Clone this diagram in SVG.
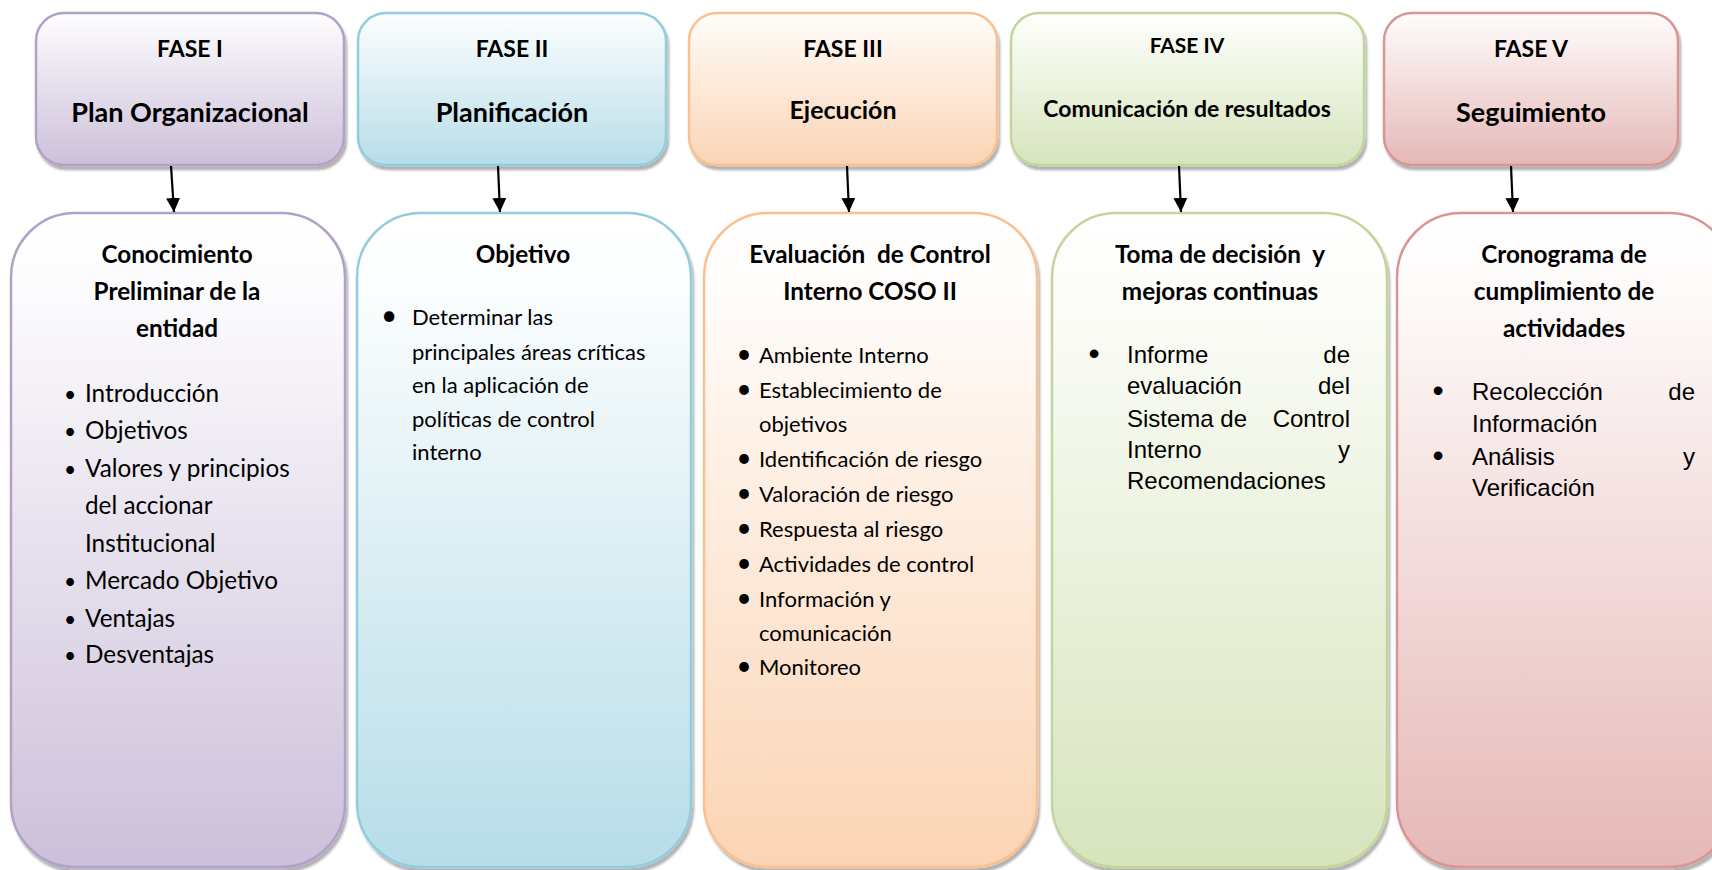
<svg xmlns="http://www.w3.org/2000/svg" width="1712" height="870" viewBox="0 0 1712 870">
<style>
.hdr{font-family:Lato,"Liberation Sans",sans-serif;font-weight:bold;fill:#000;text-anchor:middle}
.fase{font-size:23px}
.ttl{font-size:27px}
.bh{font-size:24.3px}
.b1{font-family:Lato,"Liberation Sans",sans-serif;font-size:24.3px;fill:#000}
.b2{font-family:Lato,"Liberation Sans",sans-serif;font-size:22px;fill:#000}
.ar{font-family:"Liberation Sans",Arial,sans-serif;font-size:24px;fill:#000}
.end{text-anchor:end}
.bul{text-anchor:middle}
.b1 .bul{font-size:21px}
.ar .bul{font-size:32px}
.conn line{stroke:#000;stroke-width:2.2;marker-end:url(#ah)}
</style>
<defs>
<filter id="sh" x="-5%" y="-5%" width="115%" height="115%">
<feDropShadow dx="2" dy="4" stdDeviation="1.2" flood-color="#000" flood-opacity="0.3"/>
</filter>
<marker id="ah" markerWidth="14" markerHeight="16" refX="14" refY="7" orient="auto" markerUnits="userSpaceOnUse">
<path d="M0,0 L14,7 L0,14 Z" fill="#000"/>
</marker>
<linearGradient id="gP" x1="0" y1="0" x2="0" y2="1"><stop offset="0" stop-color="#fefdff"/><stop offset="1" stop-color="#ccc0da"/></linearGradient>
<linearGradient id="gB" x1="0" y1="0" x2="0" y2="1"><stop offset="0" stop-color="#fdfeff"/><stop offset="1" stop-color="#b7dde8"/></linearGradient>
<linearGradient id="gO" x1="0" y1="0" x2="0" y2="1"><stop offset="0" stop-color="#fffdfb"/><stop offset="1" stop-color="#fbd4b4"/></linearGradient>
<linearGradient id="gG" x1="0" y1="0" x2="0" y2="1"><stop offset="0" stop-color="#fefffc"/><stop offset="1" stop-color="#d7e4bd"/></linearGradient>
<linearGradient id="gR" x1="0" y1="0" x2="0" y2="1"><stop offset="0" stop-color="#fffdfd"/><stop offset="1" stop-color="#e5b8b7"/></linearGradient>
<linearGradient id="lP" x1="0" y1="0" x2="0" y2="1"><stop offset="0" stop-color="#ffffff"/><stop offset="0.12" stop-color="#fcfbfd"/><stop offset="1" stop-color="#ccc0da"/></linearGradient>
<linearGradient id="lB" x1="0" y1="0" x2="0" y2="1"><stop offset="0" stop-color="#ffffff"/><stop offset="0.12" stop-color="#fbfdfe"/><stop offset="1" stop-color="#b7dde8"/></linearGradient>
<linearGradient id="lO" x1="0" y1="0" x2="0" y2="1"><stop offset="0" stop-color="#ffffff"/><stop offset="0.12" stop-color="#fffcfa"/><stop offset="1" stop-color="#fbd4b4"/></linearGradient>
<linearGradient id="lG" x1="0" y1="0" x2="0" y2="1"><stop offset="0" stop-color="#ffffff"/><stop offset="0.12" stop-color="#fcfdf9"/><stop offset="1" stop-color="#d7e4bd"/></linearGradient>
<linearGradient id="lR" x1="0" y1="0" x2="0" y2="1"><stop offset="0" stop-color="#ffffff"/><stop offset="0.12" stop-color="#fefafa"/><stop offset="1" stop-color="#e5b8b7"/></linearGradient>
</defs>
<rect width="1712" height="870" fill="#fff"/>

<g id="fase1">
<rect x="36" y="13" width="308" height="152" rx="28" fill="url(#gP)" stroke="#b2a1c7" stroke-width="2.5" filter="url(#sh)"/>
<text class="hdr fase" x="190" y="57">FASE I</text>
<text class="hdr ttl" x="190" y="122">Plan Organizacional</text>
</g>
<g id="fase2">
<rect x="358" y="13" width="308" height="152" rx="28" fill="url(#gB)" stroke="#92cddc" stroke-width="2.5" filter="url(#sh)"/>
<text class="hdr fase" x="512" y="57">FASE II</text>
<text class="hdr ttl" x="512" y="122">Planificación</text>
</g>
<g id="fase3">
<rect x="689" y="13" width="308" height="152" rx="28" fill="url(#gO)" stroke="#fac08f" stroke-width="2.5" filter="url(#sh)"/>
<text class="hdr fase" x="843" y="57">FASE III</text>
<text class="hdr" style="font-size:25px" x="843" y="119">Ejecución</text>
</g>
<g id="fase4">
<rect x="1011" y="13" width="353" height="152" rx="28" fill="url(#gG)" stroke="#c2d69b" stroke-width="2.5" filter="url(#sh)"/>
<text class="hdr" style="font-size:21px" x="1187" y="53">FASE IV</text>
<text class="hdr" style="font-size:23px" x="1187" y="117">Comunicación de resultados</text>
</g>
<g id="fase5">
<rect x="1384" y="13" width="294" height="152" rx="28" fill="url(#gR)" stroke="#d99594" stroke-width="2.5" filter="url(#sh)"/>
<text class="hdr fase" x="1531" y="57">FASE V</text>
<text class="hdr ttl" x="1531" y="122">Seguimiento</text>
</g>

<g id="box1">
<rect x="11" y="213" width="334" height="654" rx="64" fill="url(#lP)" stroke="#b2a1c7" stroke-width="2.5" filter="url(#sh)"/>
<text class="hdr bh" x="177" y="263">Conocimiento</text>
<text class="hdr bh" x="177" y="300">Preliminar de la</text>
<text class="hdr bh" x="177" y="337">entidad</text>
<g class="b1">
<text class="bul" x="70" y="402">•</text><text x="85" y="402">Introducción</text>
<text class="bul" x="70" y="439">•</text><text x="85" y="439">Objetivos</text>
<text class="bul" x="70" y="477">•</text><text x="85" y="477">Valores y principios</text>
<text x="85" y="514">del accionar</text>
<text x="85" y="552">Institucional</text>
<text class="bul" x="70" y="589">•</text><text x="85" y="589">Mercado Objetivo</text>
<text class="bul" x="70" y="627">•</text><text x="85" y="627">Ventajas</text>
<text class="bul" x="70" y="663">•</text><text x="85" y="663">Desventajas</text>
</g>
</g>

<g id="box2">
<rect x="357" y="213" width="334" height="654" rx="64" fill="url(#lB)" stroke="#92cddc" stroke-width="2.5" filter="url(#sh)"/>
<text class="hdr bh" x="523" y="263">Objetivo</text>
<g class="b2">
<text class="bul" x="389" y="325" style="font-size:28px">•</text>
<text x="412" y="325">Determinar las</text>
<text x="412" y="360">principales áreas críticas</text>
<text x="412" y="393">en la aplicación de</text>
<text x="412" y="427">políticas de control</text>
<text x="412" y="460">interno</text>
</g>
</g>

<g id="box3">
<rect x="704" y="213" width="333" height="654" rx="64" fill="url(#lO)" stroke="#fac08f" stroke-width="2.5" filter="url(#sh)"/>
<text class="hdr bh" x="870" y="263" style="white-space:pre">Evaluación  de Control</text>
<text class="hdr bh" x="870" y="300">Interno COSO II</text>
<g class="b2">
<text class="bul" x="744" y="363" style="font-size:26px">•</text><text x="759" y="363">Ambiente Interno</text>
<text class="bul" x="744" y="398" style="font-size:26px">•</text><text x="759" y="398">Establecimiento de</text>
<text x="759" y="432">objetivos</text>
<text class="bul" x="744" y="467" style="font-size:26px">•</text><text x="759" y="467">Identificación de riesgo</text>
<text class="bul" x="744" y="502" style="font-size:26px">•</text><text x="759" y="502">Valoración de riesgo</text>
<text class="bul" x="744" y="537" style="font-size:26px">•</text><text x="759" y="537">Respuesta al riesgo</text>
<text class="bul" x="744" y="572" style="font-size:26px">•</text><text x="759" y="572">Actividades de control</text>
<text class="bul" x="744" y="607" style="font-size:26px">•</text><text x="759" y="607">Información y</text>
<text x="759" y="641">comunicación</text>
<text class="bul" x="744" y="675" style="font-size:26px">•</text><text x="759" y="675">Monitoreo</text>
</g>
</g>

<g id="box4">
<rect x="1052" y="213" width="335" height="654" rx="64" fill="url(#lG)" stroke="#c2d69b" stroke-width="2.5" filter="url(#sh)"/>
<text class="hdr bh" x="1220" y="263" style="white-space:pre">Toma de decisión  y</text>
<text class="hdr bh" x="1220" y="300">mejoras continuas</text>
<g class="ar">
<text class="bul" x="1094" y="364">•</text>
<text x="1127" y="363">Informe</text><text class="end" x="1350" y="363">de</text>
<text x="1127" y="394">evaluación</text><text class="end" x="1350" y="394">del</text>
<text x="1127" y="427">Sistema de</text><text class="end" x="1350" y="427">Control</text>
<text x="1127" y="458">Interno</text><text class="end" x="1350" y="458">y</text>
<text x="1127" y="489">Recomendaciones</text>
</g>
</g>

<g id="box5">
<rect x="1397" y="213" width="336" height="654" rx="64" fill="url(#lR)" stroke="#d99594" stroke-width="2.5" filter="url(#sh)"/>
<text class="hdr bh" x="1564" y="263">Cronograma de</text>
<text class="hdr bh" x="1564" y="300">cumplimiento de</text>
<text class="hdr bh" x="1564" y="337">actividades</text>
<g class="ar">
<text class="bul" x="1438" y="401">•</text>
<text x="1472" y="400">Recolección</text><text class="end" x="1695" y="400">de</text>
<text x="1472" y="432">Información</text>
<text class="bul" x="1438" y="466">•</text>
<text x="1472" y="465">Análisis</text><text class="end" x="1695" y="465">y</text>
<text x="1472" y="496">Verificación</text>
</g>
</g>

<g id="connectors" class="conn">
<line x1="171" y1="166" x2="174" y2="212"/>
<line x1="498" y1="166" x2="500" y2="212"/>
<line x1="847" y1="166" x2="849" y2="212"/>
<line x1="1179" y1="166" x2="1181" y2="212"/>
<line x1="1511" y1="166" x2="1513" y2="212"/>
</g>
</svg>
